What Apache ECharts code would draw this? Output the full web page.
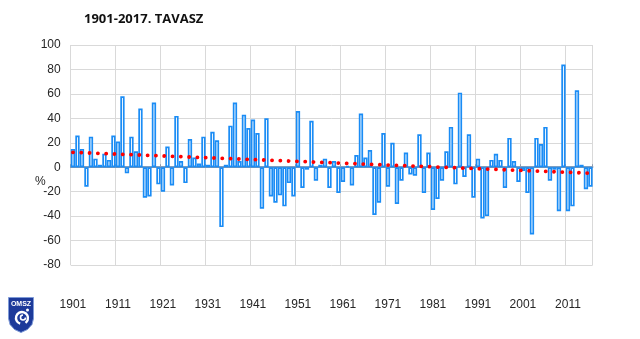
<!DOCTYPE html>
<html><head><meta charset="utf-8">
<script src="https://cdn.jsdelivr.net/npm/echarts@6/dist/echarts.min.js"></script>
<style>html,body{margin:0;padding:0;background:#fff}#c{width:640px;height:339px}</style>
</head><body><div id="c"></div>
<script>
// categories: spring seasons shown in the chart
const years = [];
for (let y = 1901; y <= 2016; y++) years.push(String(y));

// spring precipitation anomaly (%)
const anomalies = [
  15, 26, 15, -16, 25, 7, 2, 11, 6, 26,
  21, 58, -5, 25, 13, 48, -25, -24, 53, -14,
  -20, 17, -15, 42, 5, -13, 23, 8, 3, 25,
  2, 29, 22, -49, 2, 34, 53, 5, 43, 32,
  39, 28, -34, 40, -24, -29, -23, -32, -13, -24,
  46, -17, -2, 38, -11, 2, 7, -17, 5, -21,
  -12, 1, -15, 10, 44, 8, 14, -39, -29, 28,
  -16, 20, -30, -11, 12, -6, -7, 27, -21, 12,
  -35, -26, -11, 13, 33, -14, 61, -8, 27, -25,
  7, -42, -40, 6, 11, 6, -17, 24, 5, -12,
  -3, -21, -55, 24, 19, 33, -11, -2, -36, 84,
  -36, -32, 63, 2, -18, -16
];

const tickLabels = ['1901','1911','1921','1931','1941','1951','1961','1971','1981','1991','2001','2011'];
const yMin = -80, yMax = 100, yStep = 20;

// linear trend end points
const trendYears = ['1901', '2016'];
const trendValues = [12.2, -4.9];

const chart = echarts.init(document.getElementById('c'), null, {renderer: 'canvas'});
const fontFam = "'Liberation Sans', sans-serif";

chart.setOption({
  animation: false,
  backgroundColor: '#ffffff',
  grid: {left: 70.7, top: 45, width: 522, height: 220, containLabel: false},
  xAxis: [{
    type: 'category',
    data: years,
    boundaryGap: true,
    position: 'bottom',
    axisLine: {show: false, onZero: false},
    axisTick: {show: false},
    splitLine: {show: true, interval: (i, v) => tickLabels.indexOf(v) >= 0, lineStyle: {color: '#d9d9d9', width: 1}},
    axisLabel: {
      interval: (i, v) => tickLabels.indexOf(v) >= 0,
      margin: 34, fontSize: 12, color: '#262626', fontFamily: fontFam
    }
  }, {
    type: 'category',
    data: years,
    boundaryGap: true,
    position: 'top',
    axisLine: {show: true, onZero: true, lineStyle: {color: '#4f7fb0', width: 1.5}},
    axisTick: {show: true, interval: (i, v) => tickLabels.indexOf(v) >= 0, length: 3, inside: false, lineStyle: {color: '#8a9ab0'}},
    axisLabel: {show: false},
    splitLine: {show: false}
  }],
  yAxis: {
    type: 'value',
    min: yMin, max: yMax, interval: yStep,
    axisLine: {show: false},
    axisTick: {show: false},
    splitLine: {show: true, lineStyle: {color: '#d9d9d9', width: 1}},
    axisLabel: {margin: 10, fontSize: 12, color: '#262626', fontFamily: fontFam}
  },
  series: [{
    type: 'bar',
    xAxisIndex: 0,
    data: anomalies,
    barCategoryGap: '4%',
    itemStyle: {color: '#ffffff', borderColor: '#1a8cf5', borderWidth: 1.7},
    z: 2
  }, {
    type: 'line',
    xAxisIndex: 0,
    data: [[trendYears[0], trendValues[0]], [trendYears[1], trendValues[1]]],
    showSymbol: false,
    lineStyle: {color: '#ff0000', width: 3.8, type: [0.1, 8.2], cap: 'round'},
    z: 5
  }],
  graphic: [
    {type: 'text', left: 84, top: 13, style: {text: '1901-2017. TAVASZ', font: "bold 13px 'Open Sans', sans-serif", fill: '#111'}},
    {type: 'text', left: 35, top: 176, style: {text: '%', font: "12px " + fontFam, fill: '#262626'}},
    {type: 'group', left: 8, top: 297, children: [
      {type: 'polygon', shape: {points: [[0,0],[25,0],[25,21],[23.5,27],[19,32],[12.5,35],[6,32],[1.5,27],[0,21]]}, style: {fill: '#1d3a9a', stroke: '#7f9bd8', lineWidth: 1}},
      {type: 'text', x: 12.5, y: 3, style: {text: 'OMSZ', font: 'bold 7px sans-serif', fill: '#ffffff', align: 'center'}},
      {type: 'arc', shape: {cx: 13.5, cy: 20.5, r: 6, startAngle: Math.PI * 0.6, endAngle: Math.PI * 2.3}, style: {fill: 'none', stroke: '#ffffff', lineWidth: 2.4}},
      {type: 'arc', shape: {cx: 14.5, cy: 20, r: 2.5, startAngle: 0, endAngle: Math.PI * 1.5}, style: {fill: 'none', stroke: '#ffffff', lineWidth: 1.6}},
      {type: 'circle', shape: {cx: 19, cy: 12.5, r: 1.5}, style: {fill: '#ffffff'}}
    ]}
  ]
});
</script>
</body></html>
